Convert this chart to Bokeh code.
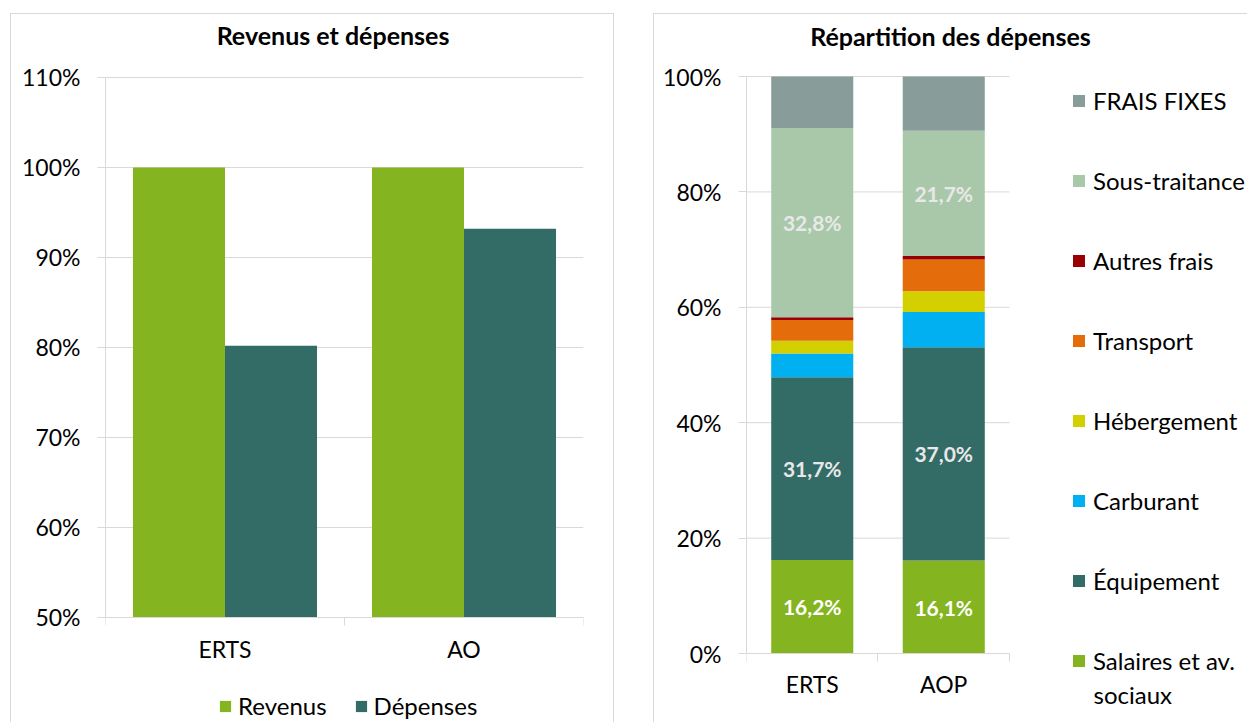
import numpy as np
from bokeh.plotting import figure
from bokeh.layouts import row
from bokeh.models import (ColumnDataSource, Range1d, FixedTicker, NumeralTickFormatter,
                          Legend, LegendItem, Label)
from bokeh.transform import dodge
from bokeh.core.properties import value
from bokeh.embed import file_html
from bokeh.resources import INLINE

FONT = "Lato"
GRID = "#d9d9d9"
TEXT = "#000000"
GREEN = "#84b41f"
TEAL = "#336b66"
LEGEND_SIZE = "24px"

# ---------------- left chart data ----------------
left_title = "Revenus et dépenses"
left_categories = ["ERTS", "AO"]
revenus = [1.00, 1.00]
depenses = [0.802, 0.932]
left_ticks = [0.5, 0.6, 0.7, 0.8, 0.9, 1.0, 1.1]

# ---------------- right chart data (%) ----------------
right_title = "Répartition des dépenses"
right_categories = ["ERTS", "AOP"]
salaires = [16.2, 16.1]
equipement = [31.7, 37.0]
carburant = [4.1, 6.1]
hebergement = [2.2, 3.6]
transport = [3.6, 5.5]
autres_frais = [0.5, 0.6]
sous_traitance = [32.8, 21.7]
frais_fixes = [8.9, 9.4]
right_ticks = [0.0, 0.2, 0.4, 0.6, 0.8, 1.0]

series_keys = ["salaires", "equipement", "carburant", "hebergement",
               "transport", "autres", "sous_traitance", "frais_fixes"]
series_values = [salaires, equipement, carburant, hebergement,
                 transport, autres_frais, sous_traitance, frais_fixes]
series_legend = ["Salaires et av.", "Équipement", "Carburant", "Hébergement",
                 "Transport", "Autres frais", "Sous-traitance", "FRAIS FIXES"]
series_legend_cont = "sociaux"
series_colors = ["#84b41f", "#336b66", "#00b0f0", "#d4d000",
                 "#e46c0a", "#990000", "#a9c8a9", "#889d9a"]
labelled = {"salaires": "#ffffff", "equipement": "#e8e8e8", "sous_traitance": "#e8e8e8"}


def style_axes(p, yticks, labels_x, x_standoff, x_axis_y, own_grid=True):
    p.outline_line_color = None
    p.background_fill_color = "white"
    p.border_fill_color = "white"
    yt = FixedTicker(ticks=yticks)
    p.yaxis.ticker = yt
    p.ygrid.ticker = yt
    p.yaxis.bounds = (yticks[0], yticks[-1])
    p.xgrid.visible = False
    p.ygrid.grid_line_color = GRID if own_grid else None
    p.ygrid.grid_line_width = 1
    for ax in p.axis:
        ax.axis_line_color = GRID
        ax.major_label_text_font = FONT
        ax.major_label_text_font_size = "23px"
        ax.major_label_text_color = TEXT
    yax = p.yaxis[0]
    yax.formatter = NumeralTickFormatter(format="0%")
    yax.major_tick_line_color = GRID
    yax.major_tick_out = 8
    yax.major_tick_in = 0
    yax.minor_tick_line_color = None
    yax.major_label_standoff = 17
    xax = p.xaxis[0]
    n = len(labels_x)
    centers = [i + 0.5 for i in range(n)]
    xax.ticker = FixedTicker(ticks=centers, minor_ticks=list(range(n + 1)))
    xax.major_label_overrides = {c: lab for c, lab in zip(centers, labels_x)}
    xax.bounds = (0, n)
    xax.fixed_location = x_axis_y
    xax.major_tick_line_color = None
    xax.major_tick_out = 0
    xax.major_tick_in = 0
    xax.minor_tick_line_color = GRID
    xax.minor_tick_out = 8
    xax.minor_tick_in = 0
    xax.major_label_standoff = x_standoff


def add_title(p, text, x, y):
    p.add_layout(Label(x=x, y=y, text=text, text_font=FONT, text_font_size="25px",
                       text_font_style="bold", text_color=TEXT,
                       text_align="center", text_baseline="middle"))


# ================= LEFT FIGURE =================
Y0_L = left_ticks[0]
p1 = figure(width=604, height=709,
            x_range=Range1d(0, len(left_categories)),
            y_range=Range1d(0.3822, 1.17),
            output_backend="svg", toolbar_location=None,
            min_border_left=94, min_border_right=32, min_border_top=0, min_border_bottom=0)
style_axes(p1, left_ticks, left_categories, 10, Y0_L)
add_title(p1, left_title, 0.952, 1.1467)

BW_L = 0.385
src_l = ColumnDataSource(dict(x=[i + 0.5 for i in range(len(left_categories))],
                              revenus=revenus, depenses=depenses))
r_rev = p1.vbar(x=dodge("x", -BW_L / 2), top="revenus", bottom=Y0_L, width=BW_L,
                fill_color=GREEN, line_color=None, source=src_l)
r_dep = p1.vbar(x=dodge("x", BW_L / 2), top="depenses", bottom=Y0_L, width=BW_L,
                fill_color=TEAL, line_color=None, source=src_l)

leg1 = Legend(items=[LegendItem(label="Revenus", renderers=[r_rev]),
                     LegendItem(label="Dépenses", renderers=[r_dep])],
              orientation="horizontal", location=(113, 3),
              glyph_width=14, glyph_height=14, label_standoff=6, spacing=27,
              padding=0, margin=0, border_line_color=None, background_fill_alpha=0,
              label_text_font=FONT, label_text_font_size=LEGEND_SIZE, label_text_color=TEXT,
              label_height=24)
p1.add_layout(leg1)
p1.styles = {"border-top": "1px solid #d9d9d9", "border-left": "1px solid #d9d9d9",
             "border-right": "1px solid #d9d9d9"}
p1.margin = (13, 0, 0, 10)

# ================= RIGHT FIGURE =================
n_r = len(right_categories)
p2 = figure(width=594, height=709,
            x_range=Range1d(0, 3.8175),
            y_range=Range1d(-0.1213, 1.1075),
            output_backend="svg", toolbar_location=None,
            min_border_left=92, min_border_right=0, min_border_top=0, min_border_bottom=0)
style_axes(p2, right_ticks, right_categories, 8, right_ticks[0], own_grid=False)
add_title(p2, right_title, 1.551, 1.071)

# horizontal gridlines limited to the plot area (categories span)
grid_src = ColumnDataSource(dict(y=right_ticks, x0=[0] * len(right_ticks),
                                 x1=[n_r] * len(right_ticks)))
p2.segment(x0="x0", x1="x1", y0="y", y1="y", source=grid_src,
           line_color=GRID, line_width=1)

BW_R = 0.624
data_r = {"x": [i + 0.5 for i in range(n_r)]}
for k, vals in zip(series_keys, series_values):
    data_r[k] = [v / 100.0 for v in vals]
src_r = ColumnDataSource(data_r)
renderers = p2.vbar_stack(series_keys, x="x", width=BW_R, fill_color=series_colors,
                          line_color=None, source=src_r)

# data labels (centre of each labelled segment)
lx, ly, lt, lc = [], [], [], []
cum = np.zeros(n_r)
for k, vals in zip(series_keys, series_values):
    v = np.array(vals) / 100.0
    if k in labelled:
        for i in range(n_r):
            lx.append(i + 0.5)
            ly.append(cum[i] + v[i] / 2)
            lt.append(f"{vals[i]:.1f}".replace(".", ",") + "%")
            lc.append(labelled[k])
    cum = cum + v
src_lab = ColumnDataSource(dict(x=lx, y=ly, text=lt, color=lc))
p2.text(x="x", y="y", text="text", source=src_lab, text_color="color",
        text_font=value(FONT), text_font_size="21px", text_font_style="bold",
        text_align="center", text_baseline="middle")

items = [LegendItem(label=lab, renderers=[r]) for lab, r in zip(series_legend, renderers)]
items = items[::-1]
leg2 = Legend(items=items, orientation="vertical", location=(325, 48),
              glyph_width=15, glyph_height=15, label_standoff=7, spacing=50,
              label_height=30, padding=0, margin=0, border_line_color=None,
              background_fill_alpha=0, label_text_font=FONT, label_text_font_size=LEGEND_SIZE,
              label_text_color=TEXT)
p2.add_layout(leg2)
p2.add_layout(Label(x=2.639, y=-0.0719, text=series_legend_cont, text_font=FONT,
                    text_font_size=LEGEND_SIZE, text_color=TEXT, text_baseline="middle"))
p2.styles = {"border-top": "1px solid #d9d9d9", "border-left": "1px solid #d9d9d9"}
p2.margin = (13, 0, 0, 39)

layout = row(p1, p2)
open("out.html", "w").write(file_html(layout, INLINE))
